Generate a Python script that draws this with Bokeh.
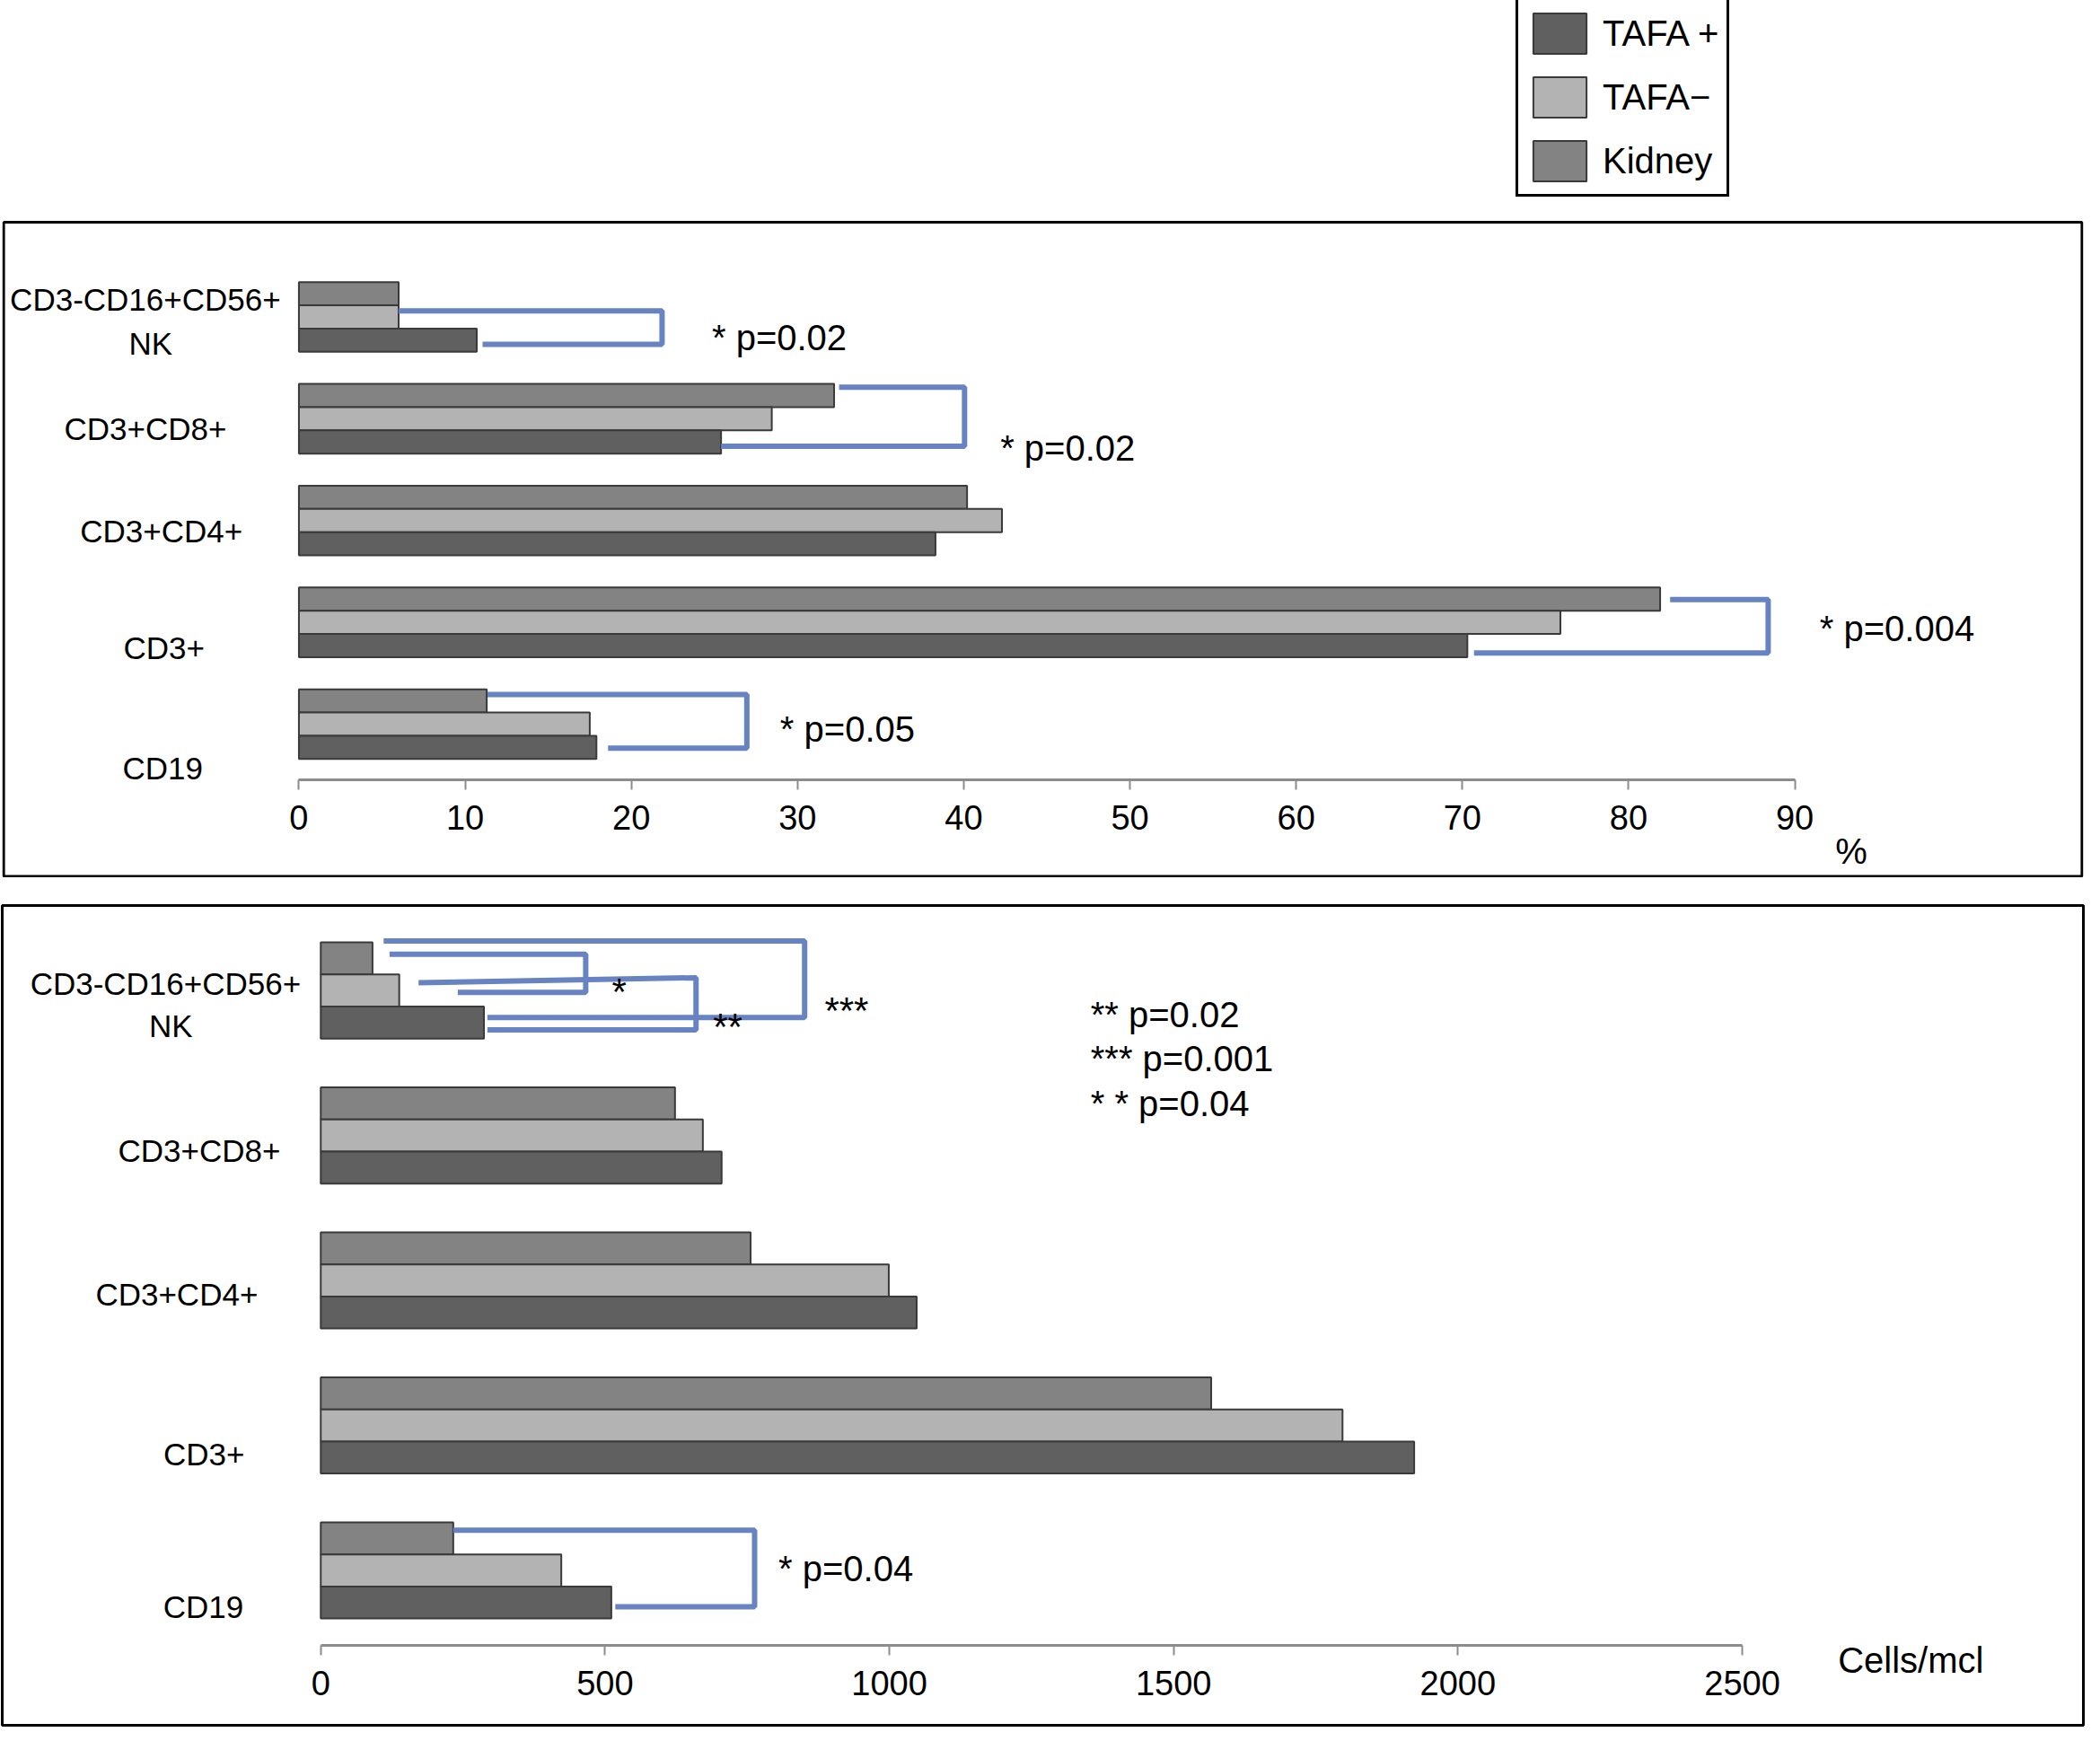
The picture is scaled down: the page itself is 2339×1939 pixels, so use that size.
from bokeh.plotting import figure
from bokeh.models import (LinearAxis, FixedTicker, Legend, LegendItem, ColumnDataSource,
                          BoxAnnotation)
from bokeh.layouts import column
from bokeh.transform import dodge
from bokeh.embed import file_html
from bokeh.resources import INLINE
from bokeh.core.properties import value

# ---------------- data ----------------
categories = ["CD19", "CD3+", "CD3+CD4+", "CD3+CD8+", "CD3-CD16+CD56+ NK"]
series_names = ["TAFA +", "TAFA\u2212", "Kidney"]

pct_tafa_pos = [17.9, 70.3, 38.3, 25.4, 10.7]
pct_tafa_neg = [17.5, 75.9, 42.3, 28.45, 6.0]
pct_kidney = [11.3, 81.9, 40.2, 32.2, 6.0]

cells_tafa_pos = [511, 1923, 1048, 705, 287]
cells_tafa_neg = [423, 1797, 999, 672, 138]
cells_kidney = [233, 1566, 756, 623, 91]

pct_ticks = [0, 10, 20, 30, 40, 50, 60, 70, 80, 90]
cells_ticks = [0, 500, 1000, 1500, 2000, 2500]

# category label lines (text) per panel
label_lines = ["CD3-CD16+CD56+", "NK", "CD3+CD8+", "CD3+CD4+", "CD3+", "CD19"]

# significance texts
top_sig_text = ["* p=0.05", "* p=0.004", "* p=0.02", "* p=0.02"]
bot_sig_text = ["* p=0.04", "** p=0.02", "*** p=0.001", "* * p=0.04"]
bot_star_text = ["*", "**", "***"]

# ---------------- styles ----------------
FONT = "Liberation Sans"
C_POS = "#606060"
C_NEG = "#b3b3b3"
C_KID = "#838383"
C_BAR_LINE = "#3a3a3a"
C_BRACKET = "#6883c2"
C_AXIS = "#8c8c8c"
W = 2322


def add_bars(p, bar_h, kid, neg, pos):
    src = ColumnDataSource(dict(y=list(range(len(categories))), kid=kid, neg=neg, pos=pos))
    r_kid = p.hbar(y=dodge("y", bar_h), left=0, right="kid", height=bar_h, source=src,
                   fill_color=C_KID, line_color=C_BAR_LINE, line_width=2)
    r_neg = p.hbar(y=dodge("y", 0.0), left=0, right="neg", height=bar_h, source=src,
                   fill_color=C_NEG, line_color=C_BAR_LINE, line_width=2)
    r_pos = p.hbar(y=dodge("y", -bar_h), left=0, right="pos", height=bar_h, source=src,
                   fill_color=C_POS, line_color=C_BAR_LINE, line_width=2)
    return r_pos, r_neg, r_kid


def add_axis(p, axis_y, ticks, bounds, standoff):
    ax = LinearAxis(ticker=FixedTicker(ticks=ticks), fixed_location=axis_y, bounds=bounds,
                    axis_line_color=C_AXIS, axis_line_width=3,
                    major_tick_line_color=C_AXIS, major_tick_line_width=2,
                    major_tick_in=0, major_tick_out=11,
                    minor_tick_line_color=None,
                    major_label_text_font=FONT, major_label_text_font_size="38px",
                    major_label_text_color="black", major_label_standoff=standoff)
    p.add_layout(ax, "below")


def add_text(p, xs, ys, texts, size, align="left"):
    p.text(x=xs, y=ys, text=texts, text_font=value(FONT), text_font_size=size,
           text_align=align, text_baseline="middle", text_color="black")


# ---------------- top panel (%) ----------------
H1 = 977
px_x1 = 18.544   # px per %
px_y1 = 113.37   # px per category
c0_y1 = 806      # canvas px of CD19 centre
x0_1 = 331       # canvas px of 0 %
x_rng1 = (-x0_1 / px_x1, (W - x0_1) / px_x1)
y_rng1 = (-(H1 - c0_y1) / px_y1, c0_y1 / px_y1)

p1 = figure(width=W, height=H1, x_range=x_rng1, y_range=y_rng1,
            output_backend="svg", toolbar_location=None, title=None,
            x_axis_location=None, y_axis_location=None,
            min_border=0, outline_line_color=None,
            background_fill_color="white", border_fill_color="white")
p1.xgrid.visible = False
p1.ygrid.visible = False

# panel frame box
p1.add_layout(BoxAnnotation(left=x_rng1[0] + 1.6 / px_x1, right=x_rng1[1] - 1.6 / px_x1,
                            top=(c0_y1 - 247) / px_y1, bottom=y_rng1[0] + 1.6 / px_y1,
                            fill_color=None, fill_alpha=0, line_color="black",
                            line_alpha=1.0, line_width=3, level="underlay"))

t_pos, t_neg, t_kid = add_bars(p1, 0.228, pct_kidney, pct_tafa_neg, pct_tafa_pos)
add_axis(p1, (c0_y1 - 867.5) / px_y1, pct_ticks, (0, 90), 18)

add_text(p1, [-9.24, -8.92, -9.24, -8.28, -8.12, -8.2],
         [4.171, 3.737, 2.90, 1.895, 0.75, -0.434], label_lines, "35px", "center")

# brackets: (x_start, y_top) -> (x_turn, y_top) -> (x_turn, y_bot) -> (x_end, y_bot)
tb_cat = [0, 1, 3, 4]
tb_x_start = [11.35, 82.5, 32.5, 6.0]
tb_x_turn = [26.95, 88.4, 40.05, 21.85]
tb_x_end = [18.6, 70.7, 25.4, 11.05]
tb_dy_top = [0.29, 0.224, 0.31, 0.06]
tb_dy_bot = [-0.237, -0.30, -0.27, -0.269]
xs1, ys1 = [], []
for c, a, b, e, t, d in zip(tb_cat, tb_x_start, tb_x_turn, tb_x_end, tb_dy_top, tb_dy_bot):
    xs1.append([a, b, b, e])
    ys1.append([c + t, c + t, c + d, c + d])
p1.multi_line(xs=xs1, ys=ys1, line_color=C_BRACKET, line_width=6)

add_text(p1, [28.95, 91.5, 42.2, 24.85], [-0.05, 0.94, 2.71, 3.795], top_sig_text, "40px")
add_text(p1, [93.4], [-1.248], ["%"], "40px", "center")

legend = Legend(items=[LegendItem(label=series_names[0], renderers=[t_pos]),
                       LegendItem(label=series_names[1], renderers=[t_neg]),
                       LegendItem(label=series_names[2], renderers=[t_kid])],
                location=(1686, 758), orientation="vertical",
                border_line_color="black", border_line_width=3, border_line_alpha=1.0,
                background_fill_color="white", background_fill_alpha=1.0,
                label_text_font=FONT, label_text_font_size="40px",
                label_text_color="black",
                glyph_width=74, glyph_height=56, label_height=56,
                label_standoff=11, spacing=15, padding=9, margin=0)
p1.add_layout(legend, "center")

# ---------------- bottom panel (cells/mcl) ----------------
p2 = figure(width=W, height=913 + 4, x_range=(-560.2, 3100.0), y_range=(-1.068, 4.586),
            output_backend="svg", toolbar_location=None, title=None,
            x_axis_location=None, y_axis_location=None,
            min_border=2, outline_line_color="black", outline_line_width=3,
            outline_line_alpha=1.0,
            background_fill_color="white", border_fill_color="white")
p2.xgrid.visible = False
p2.ygrid.visible = False
add_bars(p2, 0.221, cells_kidney, cells_tafa_neg, cells_tafa_pos)
add_axis(p2, -0.516, cells_ticks, (0, 2500), 18)

add_text(p2, [-273, -263.8, -213.6, -253.3, -205.4, -206.6],
         [4.05, 3.759, 2.895, 1.905, 0.805, -0.25], label_lines, "35px", "center")

# brackets: points (x1,y1) (x2,y2) (x2,y3) (x4,y3)
bb_x1 = [233, 110.6, 121, 172]
bb_y1 = [0.278, 4.341, 4.25, 4.054]
bb_x2 = [763, 851, 466, 660]
bb_y2 = [0.278, 4.341, 4.25, 4.088]
bb_y3 = [-0.25, 3.814, 3.987, 3.728]
bb_x4 = [518, 293, 241, 293]
xs2, ys2 = [], []
for a, ya, b, yb, yc, d in zip(bb_x1, bb_y1, bb_x2, bb_y2, bb_y3, bb_x4):
    xs2.append([a, b, b, d])
    ys2.append([ya, yb, yc, yc])
p2.multi_line(xs=xs2, ys=ys2, line_color=C_BRACKET, line_width=6)

add_text(p2, [805, 1354, 1354, 1354], [0.015, 3.832, 3.531, 3.223], bot_sig_text, "40px")
add_text(p2, [512, 690, 886], [3.99, 3.75, 3.86], bot_star_text, "42px")
add_text(p2, [2796.5], [-0.62], ["Cells/mcl"], "40px", "center")

layout = column(p1, p2, spacing=29)
open("out.html", "w").write(file_html(layout, INLINE))
